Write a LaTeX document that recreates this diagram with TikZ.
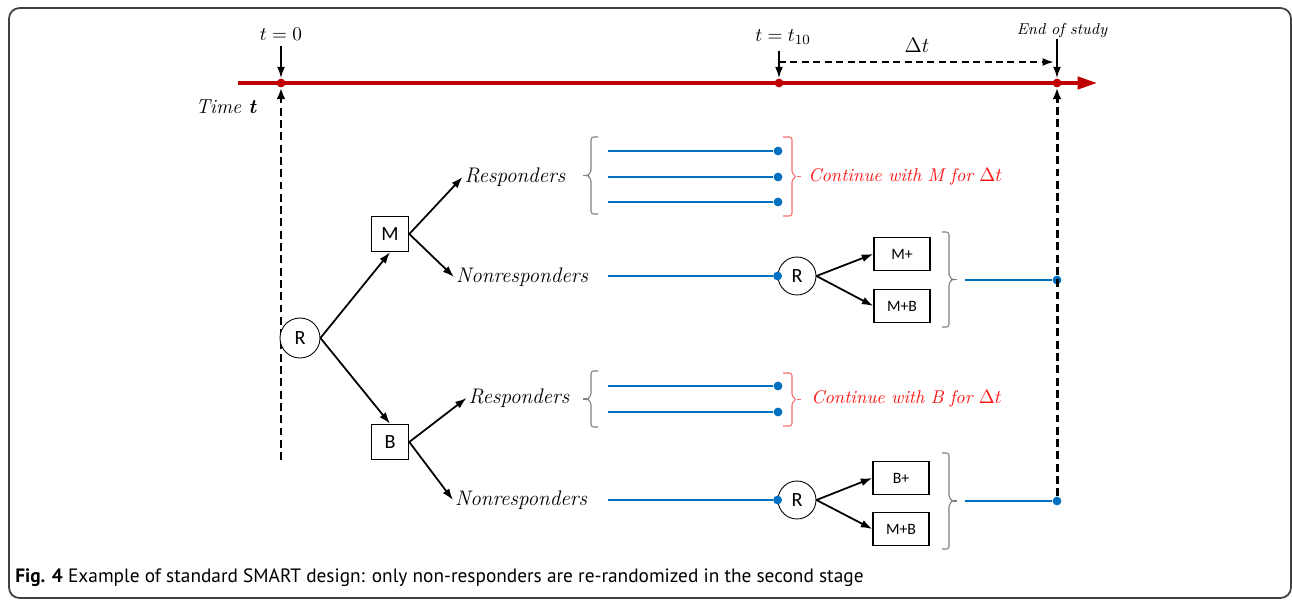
\documentclass[tikz,border=0pt]{standalone}
\usepackage{fontspec}
\newfontfamily\boxfont{Carlito}
\newfontfamily\capfont{PT Sans}
\usetikzlibrary{arrows.meta}
\definecolor{axisred}{RGB}{192,0,0}
\definecolor{armblue}{RGB}{0,112,192}
\definecolor{notered}{RGB}{255,20,20}
\definecolor{bracered}{RGB}{250,110,110}
% side bracket: style, x of ends, x of spine, x of tip, y top, y bottom
\newcommand{\sidebrk}[6]{%
  \draw[#1,rounded corners=1.5pt] (#2,#5) -- (#3,#5) -- (#3,{(#5+#6)/2-3}) -- ({(#3+#4)/2},{(#5+#6)/2}) -- (#3,{(#5+#6)/2+3}) -- (#3,#6) -- (#2,#6);
  \draw[#1] ({(#3+#4)/2},{(#5+#6)/2}) -- (#4,{(#5+#6)/2});}
\begin{document}
\begin{tikzpicture}[x=0.02cm,y=-0.02cm,
  lbl/.style={inner sep=1pt,font=\fontsize{12}{14}\selectfont\itshape},
  arm/.style={draw,line width=0.9pt,minimum width=0.74cm,minimum height=0.7cm,inner sep=0pt,font=\boxfont\fontsize{11.5}{13}\selectfont},
  arm2/.style={draw,line width=0.9pt,minimum width=1.12cm,minimum height=0.66cm,inner sep=0pt,font=\boxfont\fontsize{9}{11}\selectfont},
  rnd/.style={draw,circle,line width=0.5pt,minimum size=#1,inner sep=0pt,font=\boxfont\fontsize{11.5}{13}\selectfont},
  mk/.style={line width=1pt,-{Latex[length=6.5pt,width=4.5pt]}},
  vdash/.style={line width=1.7pt,dash pattern=on 4.5pt off 2.5pt,-{Latex[length=6.5pt,width=5pt]}},
  flow/.style={armblue,line width=1.6pt},
  bdot/.style={circle,fill=armblue,inner sep=0pt,minimum size=5pt},
  tdot/.style={circle,fill=axisred,inner sep=0pt,minimum size=5pt},
  note/.style={notered,anchor=west,inner sep=0pt,font=\fontsize{10.5}{12}\selectfont}]
\useasboundingbox (0,0) rectangle (1292,599);
\draw[black!75,line width=1pt,rounded corners=6pt] (9,8) rectangle (1291,598);

% time axis
\coordinate (ax0) at (238,83);
\coordinate (ax1) at (1097,83);
\draw[axisred,line width=1.9pt,-{Triangle[length=11pt,width=7pt]}] (ax0) -- (ax1);
\node[tdot] (m0) at (281,83) {};
\node[tdot] (m1) at (779,83) {};
\node[tdot] (m2) at (1057,83) {};
\node[font=\fontsize{11}{13}\selectfont] (t0) at (281,34) {$t=0$};
\node[font=\fontsize{11}{13}\selectfont] (t10) at (783,37) {$t=t_{10}$};
\node[inner sep=0pt,font=\fontsize{9}{11}\selectfont\itshape] (eos) at (1062,31) {End of study};
\node[font=\fontsize{11.5}{13}\selectfont\itshape] (tt) at (226,107) {Time \textbf{t}};
\draw[mk] (t0.south -| m0) -- (m0);
\draw[mk] (t10.south -| m1) -- (m1);
\draw[mk] (eos.south -| m2) -- (m2);
\coordinate (dt0) at (779,62);
\coordinate (dt1) at (1054,62);
\draw[line width=1.1pt,dash pattern=on 4pt off 2.5pt,-{Latex[length=6.5pt,width=4.5pt]}] (dt0) -- (dt1);
\node[font=\fontsize{12}{14}\selectfont] (dt) at (917,45) {$\Delta t$};

% first randomisation
\coordinate (d0) at (281,460);
\draw[vdash] (d0) -- (m0);
\node[rnd=0.8cm,fill=white] (r1) at (300,338) {R};
\node[arm] (mA) at (390,234) {M};
\node[arm] (bA) at (390,442) {B};
\draw[mk] (r1.east) -- (mA.south);
\draw[mk] (r1.east) -- (bA.north);

% M arm
\node[lbl] (rsA) at (515,177) {Responders};
\node[lbl] (nrA) at (522,277) {Nonresponders};
\draw[mk] (mA.east) -- (rsA.west);
\draw[mk] (mA.east) -- (nrA.west);
\foreach \y [count=\i] in {151,177,202} {
  \coordinate (ma\i) at (608,\y);
  \node[bdot] (mz\i) at (778,\y) {};
  \draw[flow] (ma\i) -- (mz\i);
}
\sidebrk{black!50,line width=0.6pt}{598}{591}{583}{137}{214}
\sidebrk{bracered,line width=0.6pt}{783}{792}{801}{137}{216}
\node[note] (cM) at (808,177) {$\mathit{Continue\ with\ M\ for\ }\Delta t$};
\node[rnd=0.76cm] (r2) at (797,276) {R};
\coordinate (mn) at (608,276);
\node[bdot] (mnz) at (r2.west) {};
\draw[flow] (mn) -- (mnz);
\node[arm2] (mP) at (902,254) {M+};
\node[arm2] (mPB) at (902,306) {M+B};
\draw[mk] (r2.east) -- (mP.west);
\draw[mk] (r2.east) -- (mPB.west);
\sidebrk{black!50,line width=0.6pt}{942}{949}{957}{232}{327}
\coordinate (ms) at (965,280);
\node[bdot] (mse) at (1057,280) {};
\draw[flow] (ms) -- (mse);

% B arm
\node[lbl] (rsB) at (519,398) {Responders};
\node[lbl] (nrB) at (521,500) {Nonresponders};
\draw[mk] (bA.east) -- (rsB.west);
\draw[mk] (bA.east) -- (nrB.west);
\foreach \y [count=\i] in {386,412} {
  \coordinate (ba\i) at (608,\y);
  \node[bdot] (bz\i) at (778,\y) {};
  \draw[flow] (ba\i) -- (bz\i);
}
\sidebrk{black!50,line width=0.6pt}{598}{591}{583}{371}{427}
\sidebrk{bracered,line width=0.6pt}{783}{792}{801}{373}{426}
\node[note] (cB) at (811,399) {$\mathit{Continue\ with\ B\ for\ }\Delta t$};
\node[rnd=0.76cm] (r3) at (797,500) {R};
\coordinate (bn) at (608,500);
\node[bdot] (bnz) at (r3.west) {};
\draw[flow] (bn) -- (bnz);
\node[arm2] (bP) at (901,478) {B+};
\node[arm2] (bPM) at (901,529) {M+B};
\draw[mk] (r3.east) -- (bP.west);
\draw[mk] (r3.east) -- (bPM.west);
\sidebrk{black!50,line width=0.6pt}{942}{949}{957}{453}{549}
\coordinate (bs) at (965,501);
\node[bdot] (bse) at (1057,501) {};
\draw[flow] (bs) -- (bse);
\draw[vdash] (bse) -- (m2);

% caption
\node[anchor=west,inner sep=0pt,font=\capfont\fontsize{11}{13}\selectfont] (cap) at (15,578)
  {\textbf{Fig. 4} Example of standard SMART design: only non-responders are re-randomized in the second stage};
\end{tikzpicture}
\end{document}
